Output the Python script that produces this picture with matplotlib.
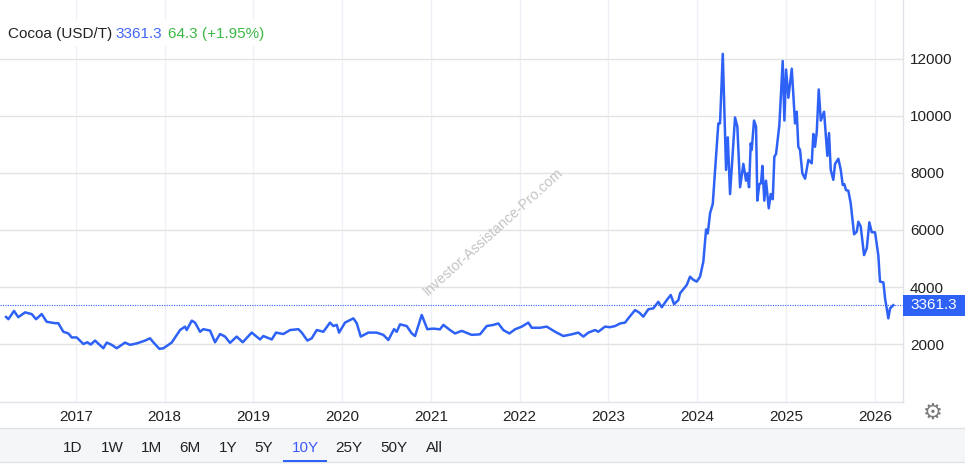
import matplotlib
matplotlib.use("Agg")
import matplotlib.pyplot as plt
import matplotlib.transforms as mtransforms
from matplotlib.patches import Rectangle

plt.rcParams['font.family'] = ['Liberation Sans', 'DejaVu Sans']

# cocoa price, USD per tonne (decimal years)
years = [
    2016.215, 2016.241, 2016.305, 2016.353, 2016.429, 2016.504, 2016.553, 2016.617,
    2016.673, 2016.767, 2016.804, 2016.860, 2016.917, 2016.955, 2017.011, 2017.086,
    2017.131, 2017.169, 2017.217, 2017.311, 2017.349, 2017.405, 2017.462, 2017.555,
    2017.612, 2017.687, 2017.781, 2017.837, 2017.874, 2017.942, 2017.987, 2018.081,
    2018.175, 2018.231, 2018.250, 2018.307, 2018.344, 2018.400, 2018.437, 2018.513,
    2018.569, 2018.625, 2018.682, 2018.738, 2018.813, 2018.881, 2018.982, 2019.076,
    2019.113, 2019.208, 2019.256, 2019.338, 2019.414, 2019.507, 2019.546, 2019.609,
    2019.658, 2019.715, 2019.789, 2019.864, 2019.902, 2019.940, 2019.966, 2020.033,
    2020.127, 2020.165, 2020.210, 2020.296, 2020.390, 2020.465, 2020.521, 2020.585,
    2020.616, 2020.653, 2020.728, 2020.785, 2020.822, 2020.897, 2020.960, 2021.028,
    2021.103, 2021.141, 2021.216, 2021.272, 2021.348, 2021.460, 2021.554, 2021.629,
    2021.704, 2021.760, 2021.816, 2021.884, 2021.948, 2022.024, 2022.098, 2022.136,
    2022.230, 2022.305, 2022.399, 2022.492, 2022.587, 2022.661, 2022.718, 2022.774,
    2022.850, 2022.886, 2022.962, 2023.018, 2023.075, 2023.131, 2023.187, 2023.224,
    2023.300, 2023.348, 2023.393, 2023.450, 2023.506, 2023.562, 2023.601, 2023.657,
    2023.702, 2023.739, 2023.788, 2023.807, 2023.882, 2023.919, 2023.957, 2023.995,
    2024.032, 2024.069, 2024.100, 2024.119, 2024.145, 2024.175, 2024.238, 2024.257,
    2024.288, 2024.325, 2024.344, 2024.370, 2024.426, 2024.452, 2024.483, 2024.520,
    2024.550, 2024.565, 2024.584, 2024.603, 2024.614, 2024.640, 2024.663, 2024.677,
    2024.700, 2024.719, 2024.734, 2024.756, 2024.775, 2024.806, 2024.828, 2024.851,
    2024.869, 2024.888, 2024.925, 2024.963, 2024.982, 2025.001, 2025.027, 2025.065,
    2025.102, 2025.121, 2025.139, 2025.158, 2025.184, 2025.215, 2025.252, 2025.290,
    2025.308, 2025.327, 2025.347, 2025.369, 2025.392, 2025.429, 2025.466, 2025.485,
    2025.504, 2025.533, 2025.553, 2025.590, 2025.617, 2025.639, 2025.657, 2025.676,
    2025.702, 2025.729, 2025.767, 2025.797, 2025.815, 2025.842, 2025.879, 2025.910,
    2025.939, 2025.966, 2026.003, 2026.040, 2026.059, 2026.097, 2026.116, 2026.153,
    2026.172, 2026.209,
]
prices = [
    2950, 2870, 3160, 2940, 3110, 3050, 2870, 3050,
    2780, 2730, 2730, 2430, 2370, 2230, 2230, 2000,
    2060, 1980, 2120, 1850, 2050, 1970, 1850, 2050,
    1970, 2020, 2120, 2200, 2060, 1830, 1850, 2050,
    2490, 2610, 2490, 2820, 2750, 2430, 2520, 2470,
    2060, 2350, 2260, 2040, 2260, 2060, 2400, 2160,
    2280, 2160, 2400, 2350, 2490, 2520, 2400, 2120,
    2200, 2490, 2430, 2750, 2630, 2670, 2400, 2750,
    2900, 2730, 2260, 2400, 2400, 2320, 2140, 2520,
    2430, 2690, 2630, 2370, 2280, 3020, 2520, 2540,
    2515, 2670, 2490, 2370, 2460, 2320, 2340, 2630,
    2670, 2720, 2490, 2370, 2515, 2610, 2750, 2570,
    2570, 2610, 2430, 2280, 2340, 2400, 2260, 2400,
    2490, 2430, 2610, 2590, 2630, 2720, 2750, 2900,
    3190, 3100, 2960, 3220, 3250, 3480, 3290, 3540,
    3720, 3400, 3540, 3780, 4070, 4360, 4250, 4190,
    4360, 4890, 6020, 5880, 6590, 6910, 9740, 9740,
    12180, 8110, 9250, 7260, 9950, 9630, 7500, 8320,
    7730, 7990, 7500, 9040, 8810, 9840, 9630, 7030,
    7610, 7640, 8250, 7030, 7730, 6760, 7260, 7080,
    8570, 8670, 9670, 11930, 9840, 11630, 10640, 11660,
    9740, 10150, 8920, 8810, 7990, 7800, 8460, 8340,
    9370, 8920, 9460, 10930, 9840, 10150, 8600, 9400,
    8110, 7760, 8320, 8500, 8110, 7580, 7610, 7400,
    7380, 6940, 5850, 5940, 6290, 6120, 5120, 5360,
    6270, 5920, 5920, 5120, 4190, 4160, 3600, 2900,
    3250, 3361.3,
]
last_price = 3361.3
change = 64.3
change_pct = 1.95
year_ticks = [2017, 2018, 2019, 2020, 2021, 2022, 2023, 2024, 2025, 2026]
price_ticks = [2000, 4000, 6000, 8000, 10000, 12000]
ranges = ['1D', '1W', '1M', '6M', '1Y', '5Y', '10Y', '25Y', '50Y', 'All']
active_range = '10Y'

BLUE = '#2e62f6'
W, H = 965, 468
fig = plt.figure(figsize=(W / 100, H / 100), dpi=100)
ax = fig.add_axes([0, 66 / H, 903 / W, 402 / H])

ax.plot(years, prices, color=BLUE, lw=1.8, solid_joinstyle='round', zorder=3)
ax.axhline(last_price, color=BLUE, lw=0.8, ls=(0, (1, 1.2)), zorder=2)

ax.set_xlim(2016.147, 2026.318)
ax.set_ylim(-35, 14070)
ax.set_xticks(year_ticks)
ax.set_xticklabels([str(y) for y in year_ticks])
ax.set_yticks(price_ticks)
ax.yaxis.tick_right()
ax.tick_params(axis='both', length=0, labelsize=11, labelcolor='#222222')
ax.tick_params(axis='x', pad=6)
ax.tick_params(axis='y', pad=5)
ax.grid(axis='y', color='#e3e3e3', lw=1)
ax.grid(axis='x', color='#edf1f6', lw=1)
ax.set_axisbelow(True)
for s in ['left', 'top']:
    ax.spines[s].set_visible(False)
for s in ['right', 'bottom']:
    ax.spines[s].set_color('#e0e3e8')
    ax.spines[s].set_linewidth(1)

# watermark
ax.text(0.546, 0.423, 'Investor-Assistance-Pro.com', transform=ax.transAxes,
        rotation=42, ha='center', va='center', fontsize=10.3, color='#c4c4c4')

# header with white backing
fig.patches.append(Rectangle((0, 1 - 46 / H), 272 / W, 26 / H, transform=fig.transFigure,
                             facecolor='white', edgecolor='none', zorder=1))
ty = 1 - 34 / H
fig.text(8 / W, ty, 'Cocoa (USD/T)', fontsize=11, color='#222222', va='center', zorder=2)
fig.text(115 / W, ty, f'{last_price}', fontsize=11, color='#4266fb', va='center', zorder=2)
fig.text(168 / W, ty, f'{change} (+{change_pct}%)', fontsize=11, color='#3cb846',
         va='center', zorder=2)

# last price tag on the right axis
trans = mtransforms.blended_transform_factory(fig.transFigure, ax.transData)
px_per_unit = (402 / (14070 + 35))
half = 10.5 / px_per_unit
fig.patches.append(Rectangle((903 / W, last_price - half), 62 / W, 2 * half,
                             transform=trans, facecolor=BLUE, edgecolor='none', zorder=2))
fig.text(934 / W, last_price, f'{last_price}', transform=trans, fontsize=11,
         color='white', ha='center', va='center', zorder=3)

# settings gear
fig.text(933 / W, 1 - 413 / H, '\u2699', fontsize=16, color='#7a7a7a',
         ha='center', va='center', family=['DejaVu Sans'])

# range selector bar
fig.patches.append(Rectangle((0, 6 / H), 1, 34 / H, transform=fig.transFigure,
                             facecolor='#f5f6f8', edgecolor='none', zorder=1))
for yy in [6 / H, 40 / H]:
    fig.add_artist(plt.Line2D([0, 1], [yy, yy], transform=fig.transFigure,
                              color='#dfe2e6', lw=1, zorder=2))
btn_x = [73, 112, 152, 190, 228, 264, 305, 349, 394, 434]
for lab, bx in zip(ranges, btn_x):
    active = lab == active_range
    fig.text(bx / W, 1 - 448 / H, lab, fontsize=11, ha='center', va='center',
             color='#3d5afe' if active else '#222222', zorder=3)
    if active:
        fig.patches.append(Rectangle(((bx - 22) / W, 6 / H), 44 / W, 2.5 / H,
                                     transform=fig.transFigure, facecolor='#2e62f6',
                                     edgecolor='none', zorder=3))

fig.savefig('out.png', dpi=100)
